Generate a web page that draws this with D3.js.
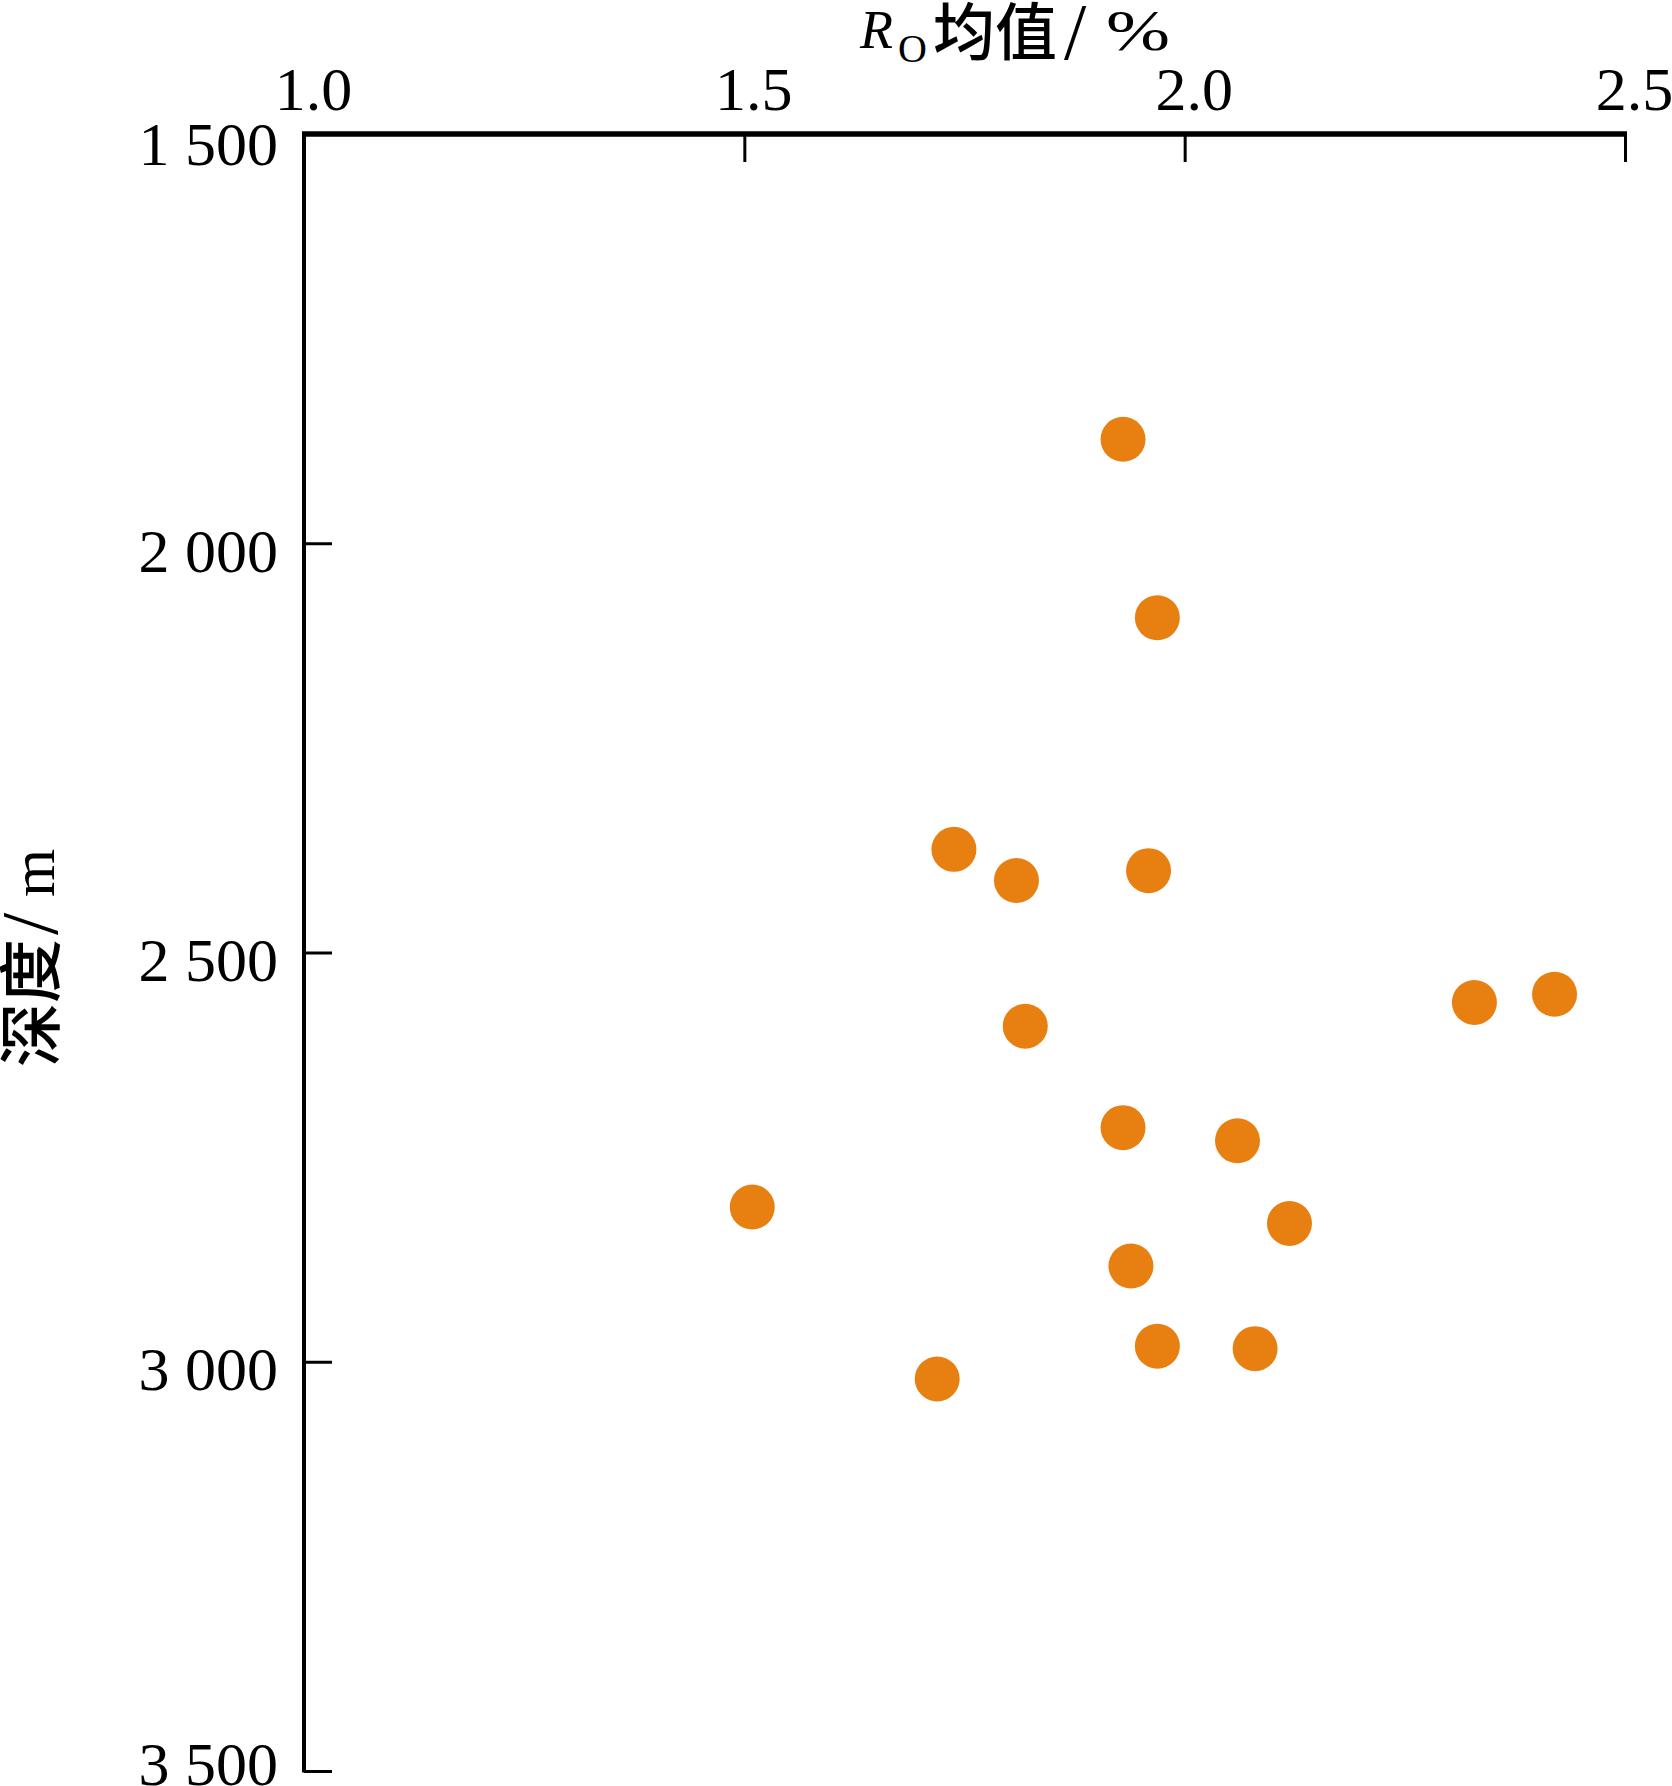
<!DOCTYPE html>
<html>
<head>
<meta charset="utf-8">
<script src="https://cdn.jsdelivr.net/npm/d3@7"></script>
<style>
  html, body { margin: 0; padding: 0; background: #fff; }
  svg { display: block; }
</style>
</head>
<body>
<script>
// Data: Ro mean (%) vs depth (m)
const roValues = [1.930, 1.969, 1.738, 1.809, 1.959, 2.329, 2.420, 1.819, 1.930, 2.060, 1.509, 2.119, 1.939, 1.969, 2.080, 1.719];
const depthValues = [1873, 2091, 2374, 2412, 2400, 2561, 2551, 2590, 2714, 2730, 2811, 2831, 2883, 2981, 2984, 3021];
const xTicks = [1.0, 1.5, 2.0, 2.5];
const xTickLabels = ["1.0", "1.5", "2.0", "2.5"];
const yTicks = [1500, 2000, 2500, 3000, 3500];
const yTickLabels = ["1 500", "2 000", "2 500", "3 000", "3 500"];

const W = 1672, H = 1786;
const svg = d3.select("body").append("svg").attr("width", W).attr("height", H);

const x = d3.scaleLinear().domain([1.0, 2.5]).range([304, 1625]);
const y = d3.scaleLinear().domain([1500, 3500]).range([134, 1771]);

const serif = "'Liberation Serif', 'Times New Roman', serif";
const cjk = "'Noto Sans CJK SC', sans-serif";

// Top x axis
const gx = svg.append("g").attr("transform", `translate(0,${y(1500)})`)
  .call(d3.axisTop(x).tickValues(xTicks).tickFormat((d, i) => xTickLabels[i])
    .tickSizeInner(-28).tickSizeOuter(0).tickPadding(24));
gx.select(".domain").attr("stroke", "#000").attr("stroke-width", 5.5)
  .attr("d", `M${x(1.0) - 2},0H${x(2.5) + 2}`);
gx.selectAll(".tick line").attr("stroke", "#000").attr("stroke-width", 3);
gx.selectAll(".tick text").attr("fill", "#000").attr("font-family", serif)
  .attr("font-size", 62).attr("dx", 9);

// Left y axis
const gy = svg.append("g").attr("transform", `translate(${x(1.0)},0)`)
  .call(d3.axisLeft(y).tickValues(yTicks).tickFormat((d, i) => yTickLabels[i])
    .tickSizeInner(-28).tickSizeOuter(0).tickPadding(26));
gy.select(".domain").attr("stroke", "#000").attr("stroke-width", 4)
  .attr("d", `M0,${y(1500)}V${y(3500) + 1.5}`);
gy.selectAll(".tick line").attr("stroke", "#000").attr("stroke-width", 3);
gy.selectAll(".tick text").attr("fill", "#000").attr("font-family", serif)
  .attr("font-size", 62).attr("dy", d => d === 3500 ? 13 : (d === 1500 ? 30 : 28));
gy.selectAll(".tick").filter(d => d === 1500).select("line").remove();

// Points
svg.append("g").selectAll("circle")
  .data(roValues.map((v, i) => ({ ro: v, depth: depthValues[i] })))
  .join("circle")
  .attr("cx", d => x(d.ro))
  .attr("cy", d => y(d.depth))
  .attr("r", 22.5)
  .attr("fill", "#e88011");

// X axis title
const xt = svg.append("text").attr("fill", "#000");
xt.append("tspan").attr("x", 860).attr("y", 48).attr("font-family", serif)
  .attr("font-style", "italic").attr("font-size", 54).text("R");
xt.append("tspan").attr("x", 898).attr("y", 62).attr("font-family", serif)
  .attr("font-size", 40).text("O");
xt.append("tspan").attr("x", 933).attr("y", 55).attr("font-family", cjk)
  .attr("font-size", 62).attr("font-weight", 500).text("均值");
xt.append("tspan").attr("x", 1064).attr("y", 59).attr("font-family", serif)
  .attr("font-size", 80).text("/");
xt.append("tspan").attr("x", 1106).attr("y", 50).attr("font-family", serif)
  .attr("font-size", 56).attr("textLength", 64).attr("lengthAdjust", "spacingAndGlyphs").text("%");

// Y axis title
const yt = svg.append("text").attr("transform", "translate(54,1067) rotate(-90)").attr("fill", "#000");
yt.append("tspan").attr("x", 0).attr("y", 0).attr("font-family", cjk)
  .attr("font-size", 64).attr("font-weight", 500).text("深度");
yt.append("tspan").attr("x", 132).attr("y", 3).attr("font-family", serif)
  .attr("font-size", 80).text("/");
yt.append("tspan").attr("x", 170).attr("y", 0).attr("font-family", serif)
  .attr("font-size", 62).text("m");
</script>
</body>
</html>
